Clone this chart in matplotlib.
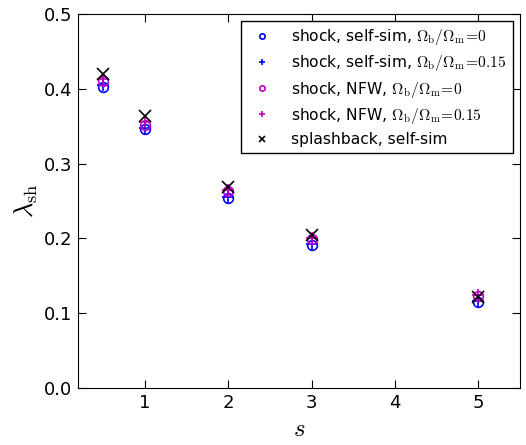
import matplotlib
matplotlib.use('Agg')
import matplotlib.pyplot as plt

plt.rcParams['mathtext.fontset'] = 'cm'
plt.rcParams['font.family'] = 'DejaVu Sans'

s = [0.5, 1, 2, 3, 5]

# lambda_sh values
lamSelfSim0 = [0.403, 0.346, 0.254, 0.191, 0.115]
lamSelfSim15 = [0.405, 0.348, 0.256, 0.193, 0.116]
lamNFW0 = [0.411, 0.352, 0.263, 0.199, 0.123]
lamNFW15 = [0.413, 0.355, 0.265, 0.201, 0.124]
lamSplash = [0.420, 0.364, 0.269, 0.205, 0.122]

labels = [r'shock, self-sim, $\Omega_{\rm b}/\Omega_{\rm m}\!=\!0$',
          r'shock, self-sim, $\Omega_{\rm b}/\Omega_{\rm m}\!=\!0.15$',
          r'shock, NFW, $\Omega_{\rm b}/\Omega_{\rm m}\!=\!0$',
          r'shock, NFW, $\Omega_{\rm b}/\Omega_{\rm m}\!=\!0.15$',
          'splashback, self-sim']

fig = plt.figure(figsize=(5.26, 4.45), dpi=100)
ax = fig.add_axes([78/526., 57/445., 442/526., 374/445.])

ax.plot(s, lamSelfSim0, 'o', mfc='none', mec='b', mew=1.2, ms=7, label=labels[0])
ax.plot(s, lamSelfSim15, '+', color='b', mew=1.2, ms=8, label=labels[1])
ax.plot(s, lamNFW0, 'o', mfc='none', mec='m', mew=1.2, ms=7, label=labels[2])
ax.plot(s, lamNFW15, '+', color='m', mew=1.2, ms=8, label=labels[3])
ax.plot(s, lamSplash, 'x', color='k', mew=1.2, ms=8, label=labels[4])

ax.set_xlim(0.2, 5.5)
ax.set_ylim(0.0, 0.5)
ax.set_xticks([1, 2, 3, 4, 5])
ax.set_yticks([0.0, 0.1, 0.2, 0.3, 0.4, 0.5])
ax.tick_params(direction='in', top=True, right=True, length=6, labelsize=13, pad=4)

ax.set_xlabel(r'$s$', fontsize=18)
ax.set_ylabel(r'$\lambda_{\rm sh}$', fontsize=19, labelpad=3)

leg = ax.legend(loc='upper right', numpoints=1, fontsize=11.2, fancybox=False,
                framealpha=1, borderaxespad=0.45, handletextpad=0.92,
                markerscale=0.55, labelspacing=0.4, handlelength=1.9)
leg.get_frame().set_edgecolor('k')

fig.savefig('out.png', dpi=100)
